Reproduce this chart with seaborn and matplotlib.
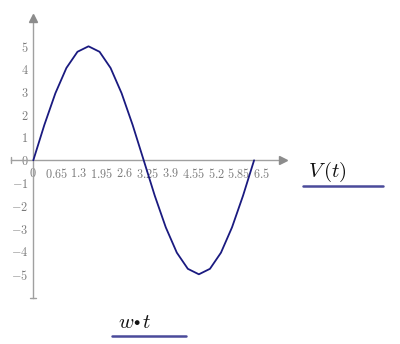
import matplotlib
matplotlib.use("Agg")
import matplotlib.pyplot as plt
import seaborn as sns
import pandas as pd

# data (V(t) against w*t)
wt = [0.0, 0.314, 0.628, 0.942, 1.257, 1.571, 1.885, 2.199, 2.513, 2.827,
      3.142, 3.456, 3.770, 4.084, 4.398, 4.712, 5.027, 5.341, 5.655, 5.969, 6.283]
V = [0.0, 1.55, 2.94, 4.05, 4.76, 5.0, 4.76, 4.05, 2.94, 1.55,
     0.0, -1.55, -2.94, -4.05, -4.76, -5.0, -4.76, -4.05, -2.94, -1.55, 0.0]
x_ticks = [0, 0.65, 1.3, 1.95, 2.6, 3.25, 3.9, 4.55, 5.2, 5.85, 6.5]
x_tick_labels = ["0", "0.65", "1.3", "1.95", "2.6", "3.25", "3.9", "4.55", "5.2", "5.85", "6.5"]
y_ticks = [-5, -4, -3, -2, -1, 0, 1, 2, 3, 4, 5]
y_tick_labels = ["\u22125", "\u22124", "\u22123", "\u22122", "\u22121", "0", "1", "2", "3", "4", "5"]
y_label = r"$V\,(t)$"
x_label_parts = [r"$w$", r"$\bullet$", r"$t$"]

sns.set_theme(style="white")
plt.rcParams["mathtext.fontset"] = "cm"
plt.rcParams["font.family"] = ["DejaVu Serif"]

line_color = "#1a1a80"
axis_color = "#a0a0a0"
text_color = "#7a7a7a"

fig = plt.figure(figsize=(4.0, 3.44), dpi=100)
xmin, xmax, ymin, ymax = -0.7, 7.2, -6.1, 6.4
sx = 35.14 / 400
sy = 22.8 / 344
left = (33.3 - 0.7 * 35.14) / 400
bottom = (344 - (160.3 + 6.1 * 22.8)) / 344
ax = fig.add_axes([left, bottom, (xmax - xmin) * sx, (ymax - ymin) * sy])
ax.set_xlim(xmin, xmax)
ax.set_ylim(ymin, ymax)

df = pd.DataFrame({"wt": wt, "V": V})
sns.lineplot(data=df, x="wt", y="V", ax=ax, color=line_color, linewidth=1.3,
             sort=False, estimator=None, zorder=5)

for s in ["top", "right"]:
    ax.spines[s].set_visible(False)
for s in ["left", "bottom"]:
    ax.spines[s].set_position(("data", 0))
    ax.spines[s].set_color(axis_color)
    ax.spines[s].set_linewidth(1.0)
ax.spines["left"].set_bounds(-6.03, 6.2)
ax.spines["bottom"].set_bounds(-0.63, 7.05)

# arrow heads at axis ends
ax.plot([0], [6.25], marker="^", color="#8c8c8c", markersize=6, clip_on=False,
        zorder=6)
ax.plot([7.1], [0], marker=">", color="#8c8c8c", markersize=6, clip_on=False,
        zorder=6)
# end caps
ax.plot([-0.08, 0.08], [-6.03, -6.03], color=axis_color, lw=1.0, clip_on=False)
ax.plot([-0.63, -0.63], [-0.13, 0.13], color=axis_color, lw=1.0, clip_on=False)

ax.set_xticks(x_ticks)
ax.set_xticklabels(["$" + t + "$" for t in x_tick_labels])
ax.set_yticks(y_ticks)
ax.set_yticklabels(["$" + t.replace("\u2212", "-") + "$" for t in y_tick_labels])
ax.tick_params(axis="both", direction="inout", length=5, width=0.8,
               color=axis_color, labelcolor=text_color, labelsize=8.8, pad=1)
ax.tick_params(axis="x", pad=2)
ax.set_xlabel("")
ax.set_ylabel("")
ax.grid(False)

# labels with underlines (Mathcad style)
fig.text(327 / 400, 1 - 172 / 344, y_label, fontsize=15, ha="center", va="center",
         color="#111111")
fig.add_artist(plt.Line2D([303 / 400, 383 / 400], [1 - 186 / 344, 1 - 186 / 344],
                          color="#4a4a9a", lw=1.8))
fig.text(126 / 400, 1 - 323 / 344, x_label_parts[0], fontsize=15, ha="center",
         va="center", color="#111111")
fig.text(137 / 400, 1 - 321 / 344, x_label_parts[1], fontsize=9, ha="center",
         va="center", color="#111111")
fig.text(146 / 400, 1 - 322 / 344, x_label_parts[2], fontsize=15, ha="center",
         va="center", color="#111111")
fig.add_artist(plt.Line2D([112 / 400, 186 / 400], [1 - 336 / 344, 1 - 336 / 344],
                          color="#4a4a9a", lw=1.8))

fig.savefig("out.png", dpi=100)
